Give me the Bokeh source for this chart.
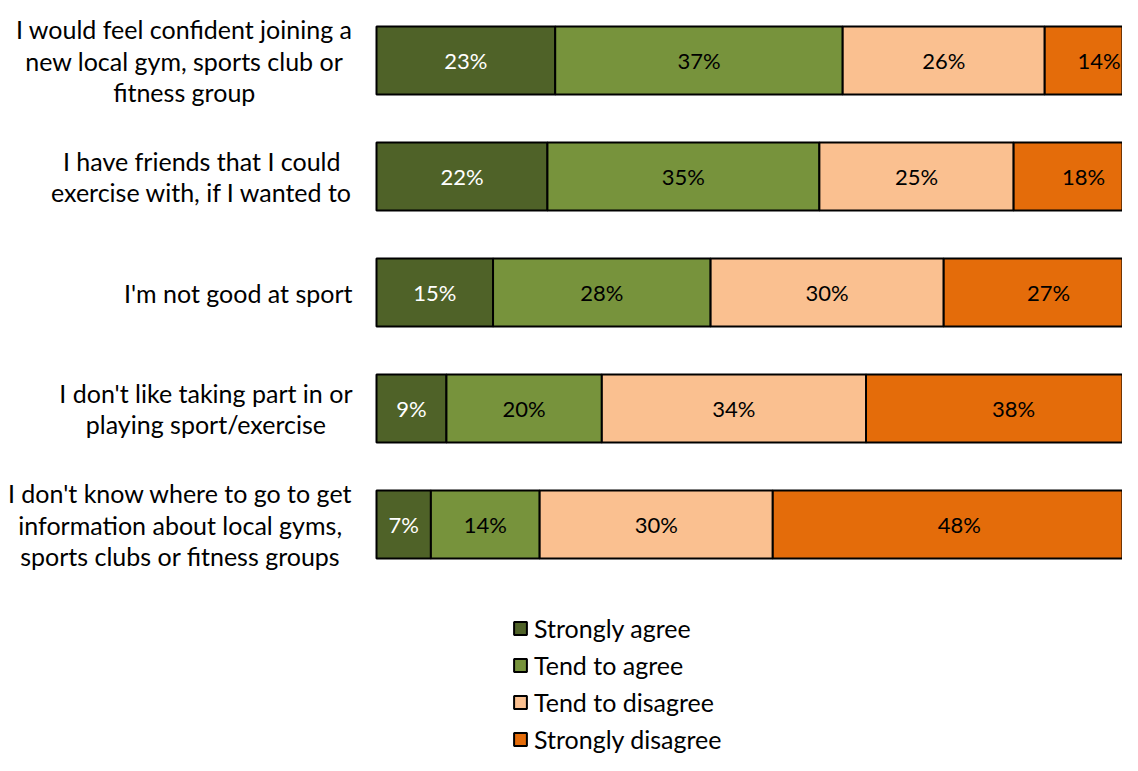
from bokeh.plotting import figure
from bokeh.models import ColumnDataSource, Range1d, Legend, LegendItem
from bokeh.core.properties import value
from bokeh.embed import file_html
from bokeh.resources import INLINE

categories = [
    "I would feel confident joining a\nnew local gym, sports club or\nfitness group",
    "I have friends that I could\nexercise with, if I wanted to",
    "I'm not good at sport",
    "I don't like taking part in or\nplaying sport/exercise",
    "I don't know where to go to get\ninformation about local gyms,\nsports clubs or fitness groups",
]
series_names = ["Strongly agree", "Tend to agree", "Tend to disagree", "Strongly disagree"]
strongly_agree = [23, 22, 15, 9, 7]
tend_to_agree = [37, 35, 28, 20, 14]
tend_to_disagree = [26, 25, 30, 34, 30]
strongly_disagree = [14, 18, 27, 38, 48]
colors = ["#4F6228", "#77933C", "#FAC090", "#E46C0A"]
label_colors = ["white", "black", "black", "black"]

W, H = 1122, 755
PX = 7.77            # pixels per percent
X0 = 376             # frame pixel of 0%
ROW0, ROWSTEP = 60, 116

FONT = "Lato"

p = figure(width=W, height=H, output_backend="svg", toolbar_location=None,
           x_range=Range1d(-X0 / PX, (W - X0) / PX),
           y_range=Range1d((H - ROW0) / ROWSTEP, -ROW0 / ROWSTEP),
           min_border=0, min_border_left=0, min_border_right=0,
           min_border_top=0, min_border_bottom=0)
p.axis.visible = False
p.grid.visible = False
p.outline_line_color = None
p.background_fill_color = "white"
p.border_fill_color = "white"

rows = list(range(len(categories)))
all_series = [strongly_agree, tend_to_agree, tend_to_disagree, strongly_disagree]
left = [0] * len(rows)
items = []
for name, vals, col, lcol in zip(series_names, all_series, colors, label_colors):
    right = [l + v for l, v in zip(left, vals)]
    src = ColumnDataSource(dict(y=rows, left=left, right=right,
                                mid=[(l + r) / 2 for l, r in zip(left, right)],
                                lab=[f"{v}%" for v in vals]))
    r = p.hbar(y="y", left="left", right="right", height=0.586, source=src,
               fill_color=col, line_color="black", line_width=2)
    p.text(x="mid", y="y", text="lab", source=src, text_align="center",
           text_baseline="middle", text_color=lcol, text_font=value(FONT),
           text_font_size="22px")
    items.append(LegendItem(label=name, renderers=[r]))
    left = right

csrc = ColumnDataSource(dict(x=[-24 / PX] * len(rows), y=rows, t=categories))
p.text(x="x", y="y", text="t", source=csrc, anchor="center_right",
       text_align="center", text_baseline="middle", text_color="black",
       text_font=value(FONT), text_font_size="25px", text_line_height=1.05)

legend = Legend(items=items, location=(512, 1), orientation="vertical",
                glyph_width=16, glyph_height=16, label_standoff=6,
                label_height=30, spacing=7, padding=0, margin=0,
                border_line_color=None, background_fill_alpha=0,
                label_text_font=FONT, label_text_font_size="25px",
                label_text_color="black")
p.add_layout(legend, "center")

open("out.html", "w").write(file_html(p, INLINE))
